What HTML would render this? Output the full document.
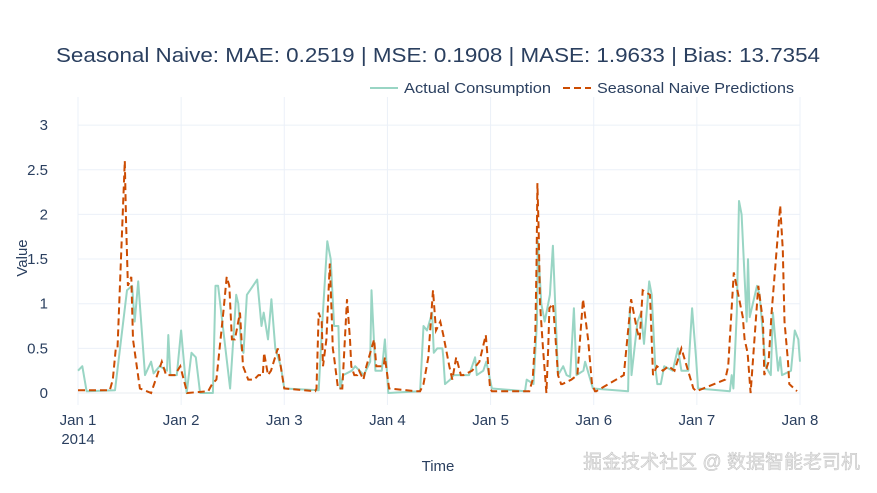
<!DOCTYPE html>
<html><head><meta charset="utf-8"><style>
body{margin:0;background:#fff;}
svg text{font-family:"Liberation Sans","Noto Sans CJK SC",sans-serif;}
</style></head><body>
<svg id="chart" width="877" height="488" xmlns="http://www.w3.org/2000/svg">
<rect width="877" height="488" fill="#fff"/>
<g id="grid"></g>
<g id="yticks"></g>
<g id="xticks"></g>
<g id="series"></g>
<text x="56" y="62" font-size="20" fill="#2a3f5f" textLength="764" lengthAdjust="spacingAndGlyphs">Seasonal Naive: MAE: 0.2519 | MSE: 0.1908 | MASE: 1.9633 | Bias: 13.7354</text>
<g>
<line x1="370" y1="88" x2="398" y2="88" stroke="#99d5c4" stroke-width="2"/>
<text x="404" y="93" font-size="15" fill="#2a3f5f" textLength="147" lengthAdjust="spacingAndGlyphs">Actual Consumption</text></g>
<g>
<line x1="563" y1="88" x2="591" y2="88" stroke="#cc4c02" stroke-width="2" stroke-dasharray="7,4"/>
<text x="597" y="93" font-size="15" fill="#2a3f5f" textLength="197" lengthAdjust="spacingAndGlyphs">Seasonal Naive Predictions</text></g>
<text x="438" y="471" text-anchor="middle" font-size="15" fill="#2a3f5f">Time</text>
<text transform="translate(27,258) rotate(-90)" text-anchor="middle" font-size="15" fill="#2a3f5f">Value</text>
<text x="860" y="468" text-anchor="end" font-size="19" fill="#e6e6e6" stroke="#bbb" stroke-width="0.4">掘金技术社区 @ 数据智能老司机</text>
</svg>
<script>
const yTickValues=[0,0.5,1,1.5,2,2.5,3];
const yTickLabels=["0","0.5","1","1.5","2","2.5","3"];
const xTickDays=[0,1,2,3,4,5,6,7];
const xTickLabels=["Jan 1","Jan 2","Jan 3","Jan 4","Jan 5","Jan 6","Jan 7","Jan 8"];
const actualHours=[0,1,2,8.6,11.4,12.6,13.2,14,15.6,17,17.6,19,20.7,21,21.5,23,24,25.3,26.4,27.4,28.4,31.4,32,32.6,35.4,36.8,37.3,38,38.5,39.3,41.7,42.7,43.2,44.2,45,45.9,47.2,48,56,56.8,58,58.8,59.6,60.6,61,61.7,63.7,64.5,66.5,68,68.3,69.2,70.7,71.4,72.2,79.6,80.4,81.2,82.4,82.8,83.6,84.8,85,85.4,86.6,87.4,91,92.4,92.8,94.3,95,96.3,104,104.4,106,106.8,107,107.8,108.6,109.4,109.8,110.5,111,111.7,112.9,113.7,114.5,115.4,116,117.6,118,119.8,128,128.4,128.8,130.2,131,131.7,132.9,133.5,134.3,134.8,135.6,136.4,138.4,139.6,140.4,142,142.9,143.8,144.3,151.7,152.1,152.5,153.3,153.8,154.4,155.6,155.9,156.3,158,158.6,160,161.2,161.7,162.9,163.4,163.8,165.9,166.8,167.6,168];
const actualValues=[0.25,0.3,0.02,0.03,1.15,1.2,0.8,1.25,0.2,0.35,0.22,0.3,0.25,0.65,0.2,0.2,0.7,0.0,0.45,0.4,0.0,0.0,1.2,1.2,0.05,1.1,1.0,0.5,0.45,1.1,1.27,0.75,0.9,0.6,1.05,0.5,0.3,0.05,0.03,0.75,1.7,1.5,0.75,0.75,0.05,0.2,0.25,0.3,0.2,0.35,1.15,0.25,0.25,0.6,0.0,0.02,0.75,0.7,0.9,0.45,0.5,0.5,0.4,0.1,0.15,0.2,0.2,0.4,0.2,0.25,0.35,0.05,0.02,0.15,0.1,0.8,1.7,1.0,0.8,1.0,1.1,1.65,1.05,0.2,0.3,0.2,0.18,0.95,0.2,0.25,0.35,0.05,0.02,0.95,0.2,0.8,0.9,0.55,1.25,1.1,0.3,0.1,0.1,0.3,0.25,0.5,0.25,0.25,0.95,0.4,0.05,0.02,0.2,0.05,0.9,2.15,2.0,0.8,1.5,0.85,1.2,1.1,0.3,0.2,0.9,0.25,0.4,0.2,0.25,0.7,0.6,0.35];
const predHours=[0,7.4,8.1,8.8,9.2,9.8,10.9,11.2,11.6,12.4,12.8,14.4,17,19.5,20.5,22.5,23.8,25.4,30.3,31.2,32.2,33.8,34.6,35.2,35.8,36.5,37.7,38.4,39.6,41,42,43,43.3,44.2,44.9,46.5,48,55.2,55.5,56,56.7,57,57.8,58.6,59,59.3,59.6,60.5,61.5,62.6,63.3,63.6,64.3,65,65.4,66.4,67.1,68.9,69.4,71.1,71.4,72.4,78.6,79.6,80.4,81.5,82.6,83.3,84.3,85,86,86.4,87.1,88,89.1,89.7,91.7,93.4,94.9,95.9,96.3,105,105.8,106.4,106.7,106.9,107.2,107.5,108.2,109,109.4,109.7,110.5,111,111.7,112.4,112.7,114.8,116.2,117.5,118.7,119.6,120.3,120.6,127,128,128.7,130.1,130.7,131.4,133.1,133.8,134.7,136.1,137.4,138.8,140.4,143.2,143.9,150.6,151.3,152.6,154.7,155.1,155.8,156.5,158.3,159.4,159.7,160.7,161.4,163.4,164,164.4,165.2,165.5,167.3,168];
const predValues=[0.03,0.03,0.15,0.5,0.5,1.25,2.6,1.9,1.2,1.3,0.6,0.05,0.0,0.35,0.2,0.2,0.3,0.0,0.02,0.1,0.15,0.9,1.3,1.2,0.6,0.6,0.9,0.3,0.15,0.15,0.2,0.2,0.45,0.2,0.25,0.5,0.05,0.02,0.05,0.9,0.8,0.3,0.6,1.45,0.9,0.5,0.4,0.05,0.05,1.05,0.6,0.3,0.2,0.2,0.25,0.15,0.3,0.6,0.3,0.3,0.4,0.05,0.02,0.02,0.1,0.4,1.15,0.7,0.8,0.65,0.4,0.3,0.15,0.4,0.2,0.2,0.25,0.35,0.65,0.05,0.02,0.02,0.15,0.65,1.5,2.35,1.8,1.0,0.5,0.0,0.5,0.95,1.0,0.7,0.2,0.1,0.1,0.15,0.2,1.05,0.6,0.1,0.02,0.02,0.2,0.7,1.05,0.7,0.6,1.15,1.1,0.2,0.3,0.25,0.3,0.25,0.5,0.05,0.02,0.15,0.3,1.35,0.85,0.6,0.45,0.0,1.2,0.8,0.2,0.35,0.9,2.1,1.6,0.8,0.35,0.1,0.02];

const X0=78,X1=800,Y0=393,PY=89.3;
const xs=h=>X0+(X1-X0)*h/168;
const ys=v=>Y0-v*PY;
const NS="http://www.w3.org/2000/svg";
function mk(tag,attrs,parent){const e=document.createElementNS(NS,tag);for(const k in attrs)e.setAttribute(k,attrs[k]);parent.appendChild(e);return e;}
const grid=document.getElementById('grid'),yt=document.getElementById('yticks'),xt=document.getElementById('xticks'),ser=document.getElementById('series');
yTickValues.forEach((v,i)=>{
  const l=mk('line',{x1:X0,x2:X1,y1:ys(v),y2:ys(v),stroke:v===0?'#e8ecf2':'#ebf0f8','stroke-width':1},grid);
  
  
  const t=mk('text',{x:48,y:ys(v)+5,'text-anchor':'end','font-size':15,fill:'#2a3f5f'},yt);
  t.textContent=yTickLabels[i];
  
  
});
xTickDays.forEach((d,i)=>{
  const x=xs(d*24);
  const l=mk('line',{x1:x,x2:x,y1:97,y2:405,stroke:'#ebf0f8','stroke-width':1},grid);
  
  
  const t=mk('text',{x:x,y:425,'text-anchor':'middle','font-size':15,fill:'#2a3f5f'},xt);
  t.textContent=xTickLabels[i];
  
  
});
const yr=mk('text',{x:xs(0),y:444,'text-anchor':'middle','font-size':15,fill:'#2a3f5f'},xt);
yr.textContent='2014';


function pts(hs,vs){return hs.map((h,i)=>xs(h).toFixed(1)+','+ys(vs[i]).toFixed(1)).join(' ');}
const a=mk('polyline',{points:pts(actualHours,actualValues),fill:'none',stroke:'#99d5c4','stroke-width':2,'stroke-linejoin':'round'},ser);


const p=mk('polyline',{points:pts(predHours,predValues),fill:'none',stroke:'#cc4c02','stroke-width':2,'stroke-dasharray':'7,4'},ser);


</script>
</body></html>
